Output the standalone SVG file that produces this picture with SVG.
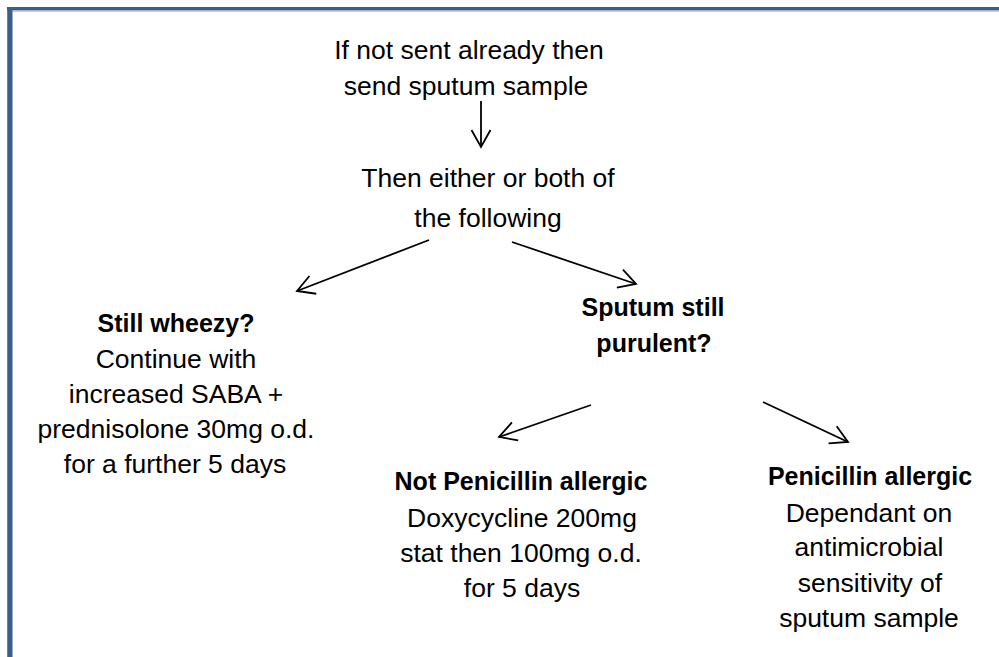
<svg xmlns="http://www.w3.org/2000/svg" width="999" height="657" viewBox="0 0 999 657">
<style>
  .t { font-family: "Liberation Sans", Arial, sans-serif; font-size: 26.5px; fill: #000; text-anchor: middle; }
  .b { font-weight: bold; font-size: 25px; }
  .c { fill: none; stroke: #000; stroke-width: 1.8; }
</style>
<defs>
  <marker id="ah" viewBox="-20 -12 22 24" refX="0" refY="0" markerWidth="22" markerHeight="24" markerUnits="userSpaceOnUse" orient="auto">
    <path d="M-17,-9.5 L0,0 L-17,9.5" fill="none" stroke="#000" stroke-width="1.8"/>
  </marker>
</defs>
<rect x="0" y="0" width="999" height="657" fill="#fff"/>
<g id="frame">
  <rect x="7" y="7" width="992" height="3.3" fill="#3c5f8a"/>
  <rect x="12.5" y="10.3" width="986.5" height="1.2" fill="#8ea6c4"/>
  <rect x="7" y="7" width="5.5" height="650" fill="#3c5f8a"/>
  <rect x="7" y="10" width="0.8" height="647" fill="#6d8bb1"/>
</g>
<g id="connectors">
  <path class="c" d="M481,101 L481,147" marker-end="url(#ah)"/>
  <path class="c" d="M429,240 L297,291" marker-end="url(#ah)"/>
  <path class="c" d="M512,242 L636,284" marker-end="url(#ah)"/>
  <path class="c" d="M591,405 L499,437" marker-end="url(#ah)"/>
  <path class="c" d="M763,402 L848,442" marker-end="url(#ah)"/>
</g>
<g id="node-start">
  <text class="t" x="469" y="59">If not sent already then</text>
  <text class="t" x="466" y="95">send sputum sample</text>
</g>
<g id="node-either">
  <text class="t" x="488" y="187">Then either or both of</text>
  <text class="t" x="488" y="227">the following</text>
</g>
<g id="node-wheezy">
  <text class="t b" x="176" y="332">Still wheezy?</text>
  <text class="t" x="176" y="368">Continue with</text>
  <text class="t" x="176" y="403">increased SABA +</text>
  <text class="t" x="176" y="438">prednisolone 30mg o.d.</text>
  <text class="t" x="175" y="473">for a further 5 days</text>
</g>
<g id="node-purulent">
  <text class="t b" x="653" y="316">Sputum still</text>
  <text class="t b" x="654" y="352">purulent?</text>
</g>
<g id="node-not-allergic">
  <text class="t b" x="521" y="490">Not Penicillin allergic</text>
  <text class="t" x="522" y="527">Doxycycline 200mg</text>
  <text class="t" x="521" y="562">stat then 100mg o.d.</text>
  <text class="t" x="522" y="597">for 5 days</text>
</g>
<g id="node-allergic">
  <text class="t b" x="870" y="485">Penicillin allergic</text>
  <text class="t" x="869" y="522">Dependant on</text>
  <text class="t" x="869" y="556">antimicrobial</text>
  <text class="t" x="870" y="592">sensitivity of</text>
  <text class="t" x="869" y="627">sputum sample</text>
</g>
</svg>
